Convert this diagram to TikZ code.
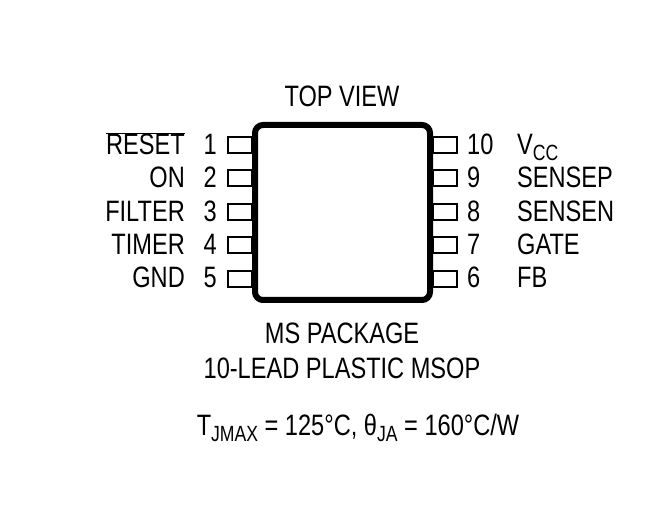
\documentclass[tikz,border=0pt]{standalone}
\usepackage{fontspec}
\setmainfont[FakeStretch=0.8]{Liberation Sans}
\newcommand{\lowtext}[1]{\raisebox{-6pt}{\fontsize{22}{22}\selectfont #1}}
\tikzset{
    pin/.style={draw, line width=2pt, minimum width=24pt, minimum height=16pt, inner sep=0pt},
    pinlabel/.style={inner sep=0pt, font=\fontsize{29.5}{30}\selectfont},
    package/.style={draw, line width=6pt, rounded corners=8pt, minimum width=175pt, minimum height=175pt}
}

\begin{document}
\begin{tikzpicture}[x=1pt, y=-1pt]
    \useasboundingbox (0, 0) rectangle (670, 505);

    \node[package] (chip) at (342.5, 212.5) {};

    \foreach \n/\y/\base/\name in {1/145/155/{$\overline{\mbox{RESET}}$}, 2/178/188/ON, 3/212/222/FILTER, 4/245/255/TIMER, 5/279/288/GND} {
        \node[pin] (pinl\n) at (240, \y) {};
        \node[pinlabel, anchor=base east] (numl\n) at (217, \base) {\n};
        \node[pinlabel, anchor=base east] (namel\n) at (185, \base) {\name};
    }

    \foreach \n/\y/\base/\name in {10/145/155/{V\lowtext{CC}}, 9/178/188/SENSEP, 8/212/222/SENSEN, 7/245/255/GATE, 6/279/288/FB} {
        \node[pin] (pinr\n) at (444.5, \y) {};
        \node[pinlabel, anchor=base west] (numr\n) at (467, \base) {\n};
        \node[pinlabel, anchor=base west] (namer\n) at (517, \base) {\name};
    }

    \node[pinlabel, anchor=base] (topview) at (342, 107) {TOP VIEW};
    \node[pinlabel, anchor=base] (pkgname) at (342, 344) {MS PACKAGE};
    \node[pinlabel, anchor=base] (pkgtype) at (342, 378) {10-LEAD PLASTIC MSOP};
    \node[pinlabel, anchor=base] (thermal) at (358, 435) {T\lowtext{JMAX} = 125°C, θ\lowtext{JA} = 160°C/W};
\end{tikzpicture}
\end{document}
